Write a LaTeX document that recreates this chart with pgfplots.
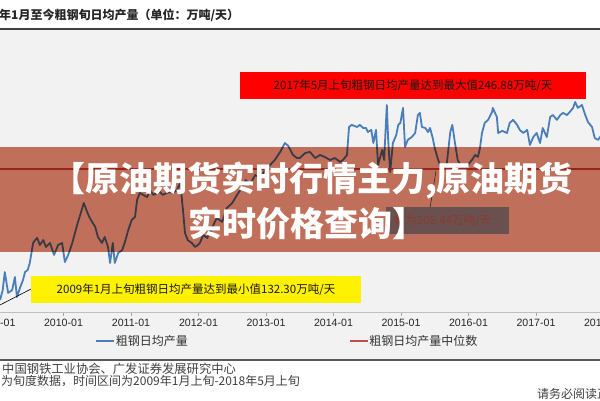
\documentclass[border=0pt]{standalone}
\usepackage{pgfplots}
\pgfplotsset{compat=1.18}
\usepackage{fontspec}
\setmainfont{Liberation Sans}
\newfontfamily\cjk{Noto Sans CJK SC}
\definecolor{bline}{RGB}{74,126,187}
\definecolor{mline}{RGB}{192,80,77}
\definecolor{bgg}{RGB}{242,242,242}
\definecolor{banner}{RGB}{203,118,95}
\definecolor{mbox}{RGB}{107,80,80}
\definecolor{mtext}{RGB}{138,59,46}
\definecolor{dk}{RGB}{64,64,64}
\begin{document}
\begin{tikzpicture}[x=1pt,y=1pt]
\path[use as bounding box] (0,0) rectangle (600,400);
\clip (0,0) rectangle (600,400);
\fill[white] (0,0) rectangle (600,400);
\fill[bgg] (0,40) rectangle (600,371);
\draw[line width=1.2pt, dk] (0,371) -- (600,371);
\node[anchor=west, inner sep=0, text=black!85] at (-1,385) {\cjk\bfseries\fontsize{12}{14}\selectfont 年1月至今粗钢旬日均产量（单位：万吨/天）};
\begin{axis}[at={(-4pt,88pt)}, anchor=south west, scale only axis,
  width=614.25pt, height=283pt,
  xmin=2009, xmax=2018.1, ymin=117, ymax=292,
  axis x line=bottom, axis y line=none,
  axis line style={-, draw=black!25, line width=0.8pt},
  xtick={2009,2010,...,2018},
  xticklabels={2009-01,2010-01,2011-01,2012-01,2013-01,2014-01,2015-01,2016-01,2017-01,2018-01},
  xtick align=outside, major tick length=4pt,
  tick style={draw=black!35, line width=0.6pt},
  ytick=\empty,
  xticklabel style={font=\fontsize{10.6}{12}\selectfont, text=black!85},
  legend columns=2,
  legend style={draw=none, fill=none, at={(0.161,-0.1025)}, anchor=west,
    font=\cjk\fontsize{12}{14}\selectfont, text=black!80,
    /tikz/every even column/.append style={column sep=160pt},
    inner sep=0pt, nodes={inner sep=1pt}},
  legend image code/.code={\draw[#1] (0pt,0pt) -- (18pt,0pt);},
]
\addplot[bline, line width=1.8pt, line join=round] table {
x y
2009.06 124.4
2009.10 130.6
2009.13 141.7
2009.18 128.8
2009.24 130.6
2009.28 138.6
2009.31 126.3
2009.36 132.5
2009.40 136.8
2009.43 141.7
2009.47 143.0
2009.50 147.3
2009.55 159.7
2009.58 161.5
2009.61 162.8
2009.65 158.4
2009.70 161.5
2009.74 157.2
2009.80 159.7
2009.86 152.3
2009.92 158.4
2009.98 159.7
2010.02 147.9
2010.07 152.3
2010.13 159.7
2010.17 165.9
2010.21 172.0
2010.27 180.1
2010.30 184.4
2010.35 178.9
2010.39 175.1
2010.47 169.6
2010.51 163.4
2010.57 159.7
2010.61 163.4
2010.66 157.2
2010.69 147.3
2010.73 159.7
2010.76 147.3
2010.81 153.5
2010.87 155.3
2010.91 160.3
2010.96 167.7
2011.01 173.9
2011.06 175.8
2011.09 186.3
2011.13 190.6
2011.18 189.4
2011.24 188.1
2011.28 192.5
2011.33 189.4
2011.39 190.6
2011.43 191.2
2011.47 189.4
2011.53 190.6
2011.58 191.2
2011.62 190.6
2011.68 192.5
2011.73 196.8
2011.77 180.1
2011.80 165.9
2011.84 161.5
2011.90 159.7
2011.95 157.2
2011.99 158.4
2012.02 159.7
2012.07 164.6
2012.13 162.8
2012.20 169.0
2012.27 175.1
2012.35 172.7
2012.42 181.3
2012.50 184.4
2012.57 189.4
2012.64 193.7
2012.70 198.6
2012.76 195.6
2012.84 201.7
2012.91 199.9
2012.99 204.8
2013.06 207.9
2013.13 211.0
2013.21 216.0
2013.28 221.5
2013.33 219.7
2013.40 214.1
2013.46 212.2
2013.50 212.2
2013.58 215.3
2013.65 216.0
2013.73 212.2
2013.80 214.1
2013.87 212.9
2013.95 211.0
2014.02 212.2
2014.10 209.8
2014.14 211.0
2014.20 214.1
2014.23 231.4
2014.27 232.7
2014.35 231.4
2014.39 232.7
2014.44 230.8
2014.48 230.8
2014.51 228.3
2014.56 229.6
2014.59 221.5
2014.63 229.6
2014.66 207.9
2014.72 217.2
2014.75 211.0
2014.79 245.0
2014.81 223.4
2014.84 203.6
2014.88 221.5
2014.93 226.5
2014.96 232.7
2014.99 233.9
2015.03 243.2
2015.06 219.1
2015.10 223.4
2015.16 225.2
2015.21 227.7
2015.25 238.8
2015.28 240.1
2015.31 231.4
2015.36 230.8
2015.40 228.3
2015.43 230.8
2015.47 224.6
2015.50 218.4
2015.55 211.0
2015.58 207.9
2015.62 204.8
2015.68 209.2
2015.73 228.3
2015.76 232.7
2015.80 221.5
2015.84 211.0
2015.90 206.7
2015.95 204.8
2015.99 207.9
2016.05 211.0
2016.10 214.1
2016.14 212.9
2016.17 218.4
2016.20 227.7
2016.24 233.9
2016.29 235.8
2016.35 240.7
2016.36 243.2
2016.42 237.6
2016.44 227.7
2016.50 229.0
2016.57 227.7
2016.61 233.9
2016.66 235.8
2016.72 232.7
2016.76 229.6
2016.81 227.7
2016.87 229.6
2016.91 220.3
2016.96 225.2
2017.01 227.7
2017.06 221.5
2017.10 230.8
2017.16 225.2
2017.21 237.6
2017.25 238.8
2017.31 235.8
2017.36 238.8
2017.40 240.1
2017.46 238.8
2017.50 240.7
2017.55 243.2
2017.58 246.88
2017.62 243.2
2017.68 245.0
2017.73 238.8
2017.77 234.5
2017.83 231.4
2017.87 224.6
2017.92 223.4
2017.95 225.2
2018.00 228.0
};
\addlegendentry{粗钢日均产量}
\addplot[mline, line width=1.5pt] coordinates {(2009,205.44) (2018.1,205.44)};
\addlegendentry{粗钢日均产量中位数}
\end{axis}
% leader lines
\draw[black, line width=0.6pt] (0,95) -- (31,111);
\draw[black!70, line width=0.6pt] (436,229) -- (430,192);
% max annotation
\fill[red] (240,301) rectangle (586,328);
\node[inner sep=0, text=black!90] at (413,314.5) {\cjk\fontsize{11.5}{13}\selectfont 2017年5月上旬粗钢日均产量达到最大值246.88万吨/天};
% min annotation
\fill[yellow] (31,97) rectangle (361,124);
\node[inner sep=0, text=black!90] at (196,110.5) {\cjk\fontsize{11.5}{13}\selectfont 2009年1月上旬粗钢日均产量达到最小值132.30万吨/天};
% banner overlay
\begin{scope}[blend mode=multiply]
\fill[banner] (0,148) rectangle (600,253);
\end{scope}
\fill[mbox] (386,166) rectangle (509,193);
\node[inner sep=0, text=mtext] at (442.5,179.5) {\cjk\fontsize{11.5}{13}\selectfont 数为205.44万吨/天};
\node[inner sep=0, text=white] at (312,219) {\cjk\bfseries\fontsize{34}{38}\selectfont 【原油期货实时行情主力,原油期货};
\node[inner sep=0, text=white] at (307,177) {\cjk\bfseries\fontsize{34}{38}\selectfont 实时价格查询】};
% footer
\draw[line width=1.2pt, black!65] (0,40) -- (600,40);
\node[anchor=west, inner sep=0, text=dk] at (2,31) {\cjk\fontsize{12.3}{14}\selectfont 中国钢铁工业协会、广发证券发展研究中心};
\node[anchor=west, inner sep=0, text=dk] at (1,19) {\cjk\fontsize{12}{14}\selectfont 为旬度数据，时间区间为2009年1月上旬-2018年5月上旬};
\node[anchor=west, inner sep=0, text=dk] at (537,6) {\cjk\fontsize{12}{14}\selectfont 请务必阅读正文之后的免责声明};
\end{tikzpicture}
\end{document}
